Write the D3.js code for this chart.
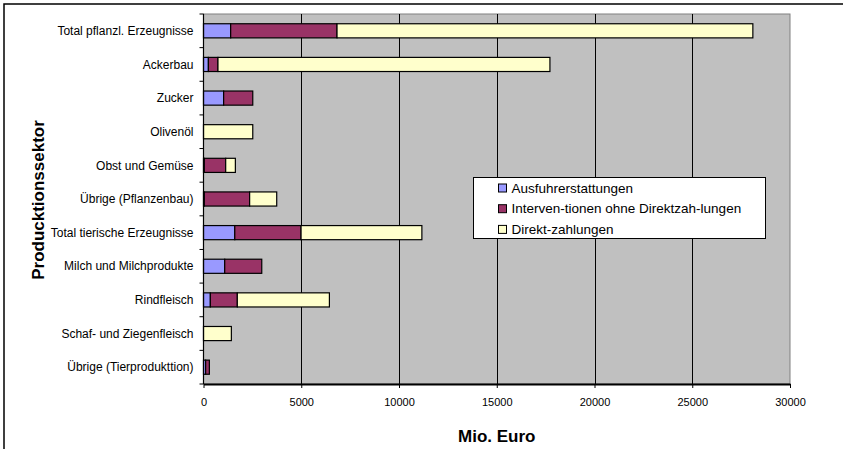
<!DOCTYPE html>
<meta charset="utf-8">
<script src="https://d3js.org/d3.v7.min.js"></script>
<style>
  body { margin: 0; background: #fff; }
  svg { font-family: Arial, "Liberation Sans", sans-serif; }
  .grid line { stroke: #000; stroke-width: 1; shape-rendering: crispEdges; }
</style>
<div id="vis"></div>
<script>
// categories (top to bottom)
var sectors = ["Total pflanzl. Erzeugnisse", "Ackerbau", "Zucker", "Olivenöl", "Obst und Gemüse",
  "Übrige (Pflanzenbau)", "Total tierische Erzeugnisse", "Milch und Milchprodukte",
  "Rindfleisch", "Schaf- und Ziegenfleisch", "Übrige (Tierprodukttion)"]

// series values, Mio. Euro
var ausfuhr    = [1390, 250, 1030, 0, 40, 40, 1600, 1085, 350, 0, 110]
var interv     = [5440, 490, 1490, 0, 1095, 2320, 3390, 1895, 1380, 0, 190]
var direkt     = [21270, 16980, 0, 2520, 495, 1385, 6180, 0, 4710, 1425, 0]

var seriesNames = ["Ausfuhrerstattungen", "Interven-tionen ohne Direktzah-lungen", "Direkt-zahlungen"]
var seriesColors = ["#9999ff", "#993366", "#ffffcc"]
var xTicks = [0, 5000, 10000, 15000, 20000, 25000, 30000]

var W = 843, H = 449
var plot = {left: 203.5, right: 790, top: 14, bottom: 384}

var rows = sectors.map(function(s, i) {
  return {sector: s, a: ausfuhr[i], b: interv[i], c: direkt[i]}
})

var svg = d3.select("#vis").append("svg")
  .attr("width", W).attr("height", H)

// outer frame
svg.append("rect")
  .attr("x", 4).attr("y", 4).attr("width", W + 10).attr("height", H + 10)
  .attr("fill", "#fff").attr("stroke", "#000").attr("stroke-width", 1.5)

var x = d3.scaleLinear().domain([0, 30000]).range([plot.left, plot.right])
var y = d3.scaleBand().domain(sectors).range([plot.top, plot.bottom]).paddingInner(0.58).paddingOuter(0.29)

// plot background
svg.append("rect")
  .attr("x", plot.left).attr("y", plot.top)
  .attr("width", plot.right - plot.left).attr("height", plot.bottom - plot.top)
  .attr("fill", "#c0c0c0").attr("stroke", "#808080").attr("stroke-width", 1)

// vertical gridlines
svg.append("g")
  .attr("class", "grid")
  .selectAll("line")
  .data(xTicks.slice(1, -1))
  .enter().append("line")
  .attr("x1", function(d) { return Math.round(x(d)) + 0.5 })
  .attr("x2", function(d) { return Math.round(x(d)) + 0.5 })
  .attr("y1", plot.top).attr("y2", plot.bottom)

// stacked bars
var stack = d3.stack().keys(["a", "b", "c"])
var layers = stack(rows)

svg.append("g").selectAll("g")
  .data(layers)
  .enter().append("g")
  .attr("fill", function(d, i) { return seriesColors[i] })
  .selectAll("rect")
  .data(function(d) { return d.filter(function(p) { return p[1] - p[0] > 0 }) })
  .enter().append("rect")
  .attr("x", function(d) { return x(d[0]) })
  .attr("y", function(d) { return y(d.data.sector) })
  .attr("width", function(d) { return x(d[1]) - x(d[0]) })
  .attr("height", y.bandwidth())
  .attr("stroke", "#000").attr("stroke-width", 1.2)

// x axis
var xAxis = svg.append("g")
  .attr("transform", "translate(0," + plot.bottom + ")")
  .call(d3.axisBottom(x).tickValues(xTicks).tickSize(4).tickSizeOuter(0).tickPadding(10).tickFormat(d3.format("d")))
xAxis.select(".domain").attr("stroke", "#000").attr("stroke-width", 2)
xAxis.selectAll("text").style("font-size", "11px").attr("fill", "#000")
xAxis.selectAll(".tick line").attr("stroke", "#000")

// y axis with ticks at band boundaries
var yAxis = svg.append("g")
  .attr("transform", "translate(" + plot.left + ",0)")
yAxis.append("line")
  .attr("x1", 0).attr("x2", 0).attr("y1", plot.top).attr("y2", plot.bottom)
  .attr("stroke", "#000").attr("stroke-width", 1.2)
var step = (plot.bottom - plot.top) / sectors.length
yAxis.selectAll(".yt")
  .data(d3.range(sectors.length + 1))
  .enter().append("line")
  .attr("x1", -4).attr("x2", 0)
  .attr("y1", function(d) { return plot.top + d * step })
  .attr("y2", function(d) { return plot.top + d * step })
  .attr("stroke", "#000")
yAxis.selectAll(".ylab")
  .data(sectors)
  .enter().append("text")
  .attr("x", -10)
  .attr("y", function(d) { return y(d) + y.bandwidth() / 2 })
  .attr("dy", "0.35em")
  .attr("text-anchor", "end")
  .style("font-size", "12px")
  .text(function(d) { return d })

// axis titles
svg.append("text")
  .attr("x", (plot.left + plot.right) / 2).attr("y", 442)
  .attr("text-anchor", "middle")
  .style("font-size", "17px").style("font-weight", "bold")
  .text("Mio. Euro")

svg.append("text")
  .attr("transform", "translate(44," + 200 + ") rotate(-90)")
  .attr("text-anchor", "middle")
  .style("font-size", "17px").style("font-weight", "bold")
  .text("Producktionssektor")

// legend
var lg = svg.append("g").attr("transform", "translate(473.5,177.5)")
lg.append("rect")
  .attr("width", 292).attr("height", 61)
  .attr("fill", "#fff").attr("stroke", "#000").attr("stroke-width", 1)
var li = lg.selectAll(".li").data(seriesNames).enter().append("g")
  .attr("transform", function(d, i) { return "translate(0," + (10.5 + i * 20.7) + ")" })
li.append("rect")
  .attr("x", 25).attr("y", -4).attr("width", 8).attr("height", 8)
  .attr("fill", function(d, i) { return seriesColors[i] })
  .attr("stroke", "#000").attr("stroke-width", 1)
li.append("text")
  .attr("x", 38).attr("dy", "0.35em")
  .style("font-size", "13.5px")
  .text(function(d) { return d })
</script>
